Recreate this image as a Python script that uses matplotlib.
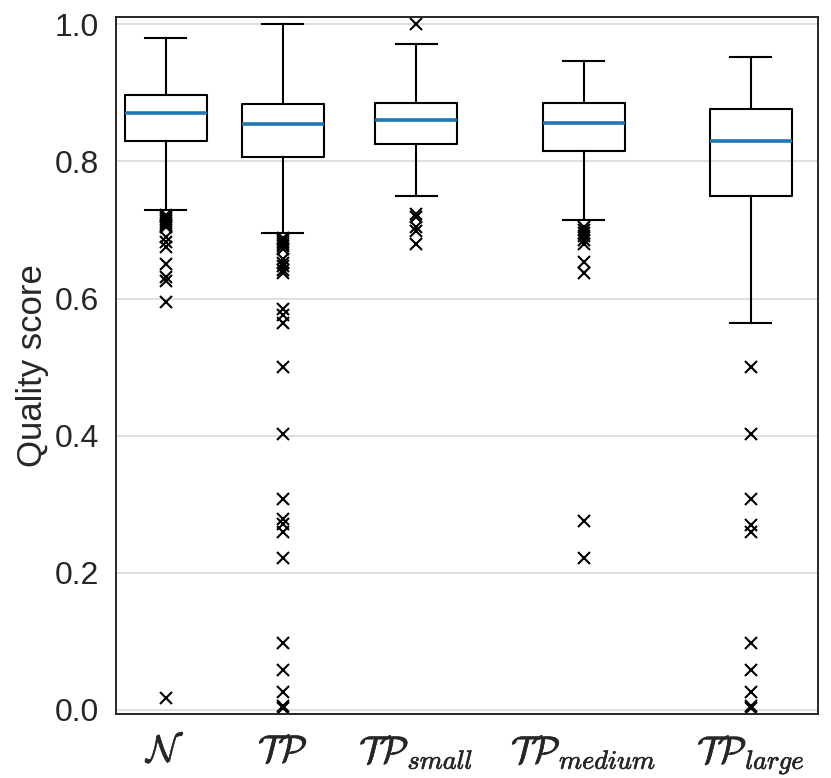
import matplotlib
matplotlib.use("Agg")
import matplotlib.pyplot as plt
import matplotlib.patheffects as pe

plt.rcParams['font.family'] = ['Liberation Sans', 'DejaVu Sans']
plt.rcParams['mathtext.fontset'] = 'cm'

# x labels and box positions
labels = [r'$\mathcal{N}$', r'$\mathcal{TP}$', r'$\mathcal{TP}_{small}$',
          r'$\mathcal{TP}_{medium}$', r'$\mathcal{TP}_{large}$']
positions = [1, 2, 3.14, 4.57, 6]

# box statistics
medians = [0.870, 0.854, 0.860, 0.856, 0.830]
q1 = [0.830, 0.806, 0.826, 0.815, 0.750]
q3 = [0.897, 0.884, 0.886, 0.886, 0.876]
whislo = [0.729, 0.695, 0.749, 0.714, 0.564]
whishi = [0.980, 1.000, 0.972, 0.946, 0.953]

# outliers
fliers_n = [0.722, 0.719, 0.716, 0.713, 0.710, 0.707, 0.704, 0.690, 0.682,
            0.675, 0.651, 0.631, 0.626, 0.595, 0.018]
fliers_tp = [0.689, 0.686, 0.683, 0.680, 0.676, 0.672, 0.657, 0.652, 0.647,
             0.641, 0.637, 0.585, 0.576, 0.564, 0.500, 0.403, 0.307, 0.278,
             0.271, 0.259, 0.221, 0.097, 0.058, 0.026, 0.006, 0.003]
fliers_small = [1.000, 0.723, 0.719, 0.704, 0.699, 0.680]
fliers_medium = [0.705, 0.700, 0.696, 0.691, 0.686, 0.680, 0.653, 0.637,
                 0.276, 0.222]
fliers_large = [0.500, 0.403, 0.307, 0.270, 0.259, 0.097, 0.058, 0.026,
                0.006, 0.003]
fliers = [fliers_n, fliers_tp, fliers_small, fliers_medium, fliers_large]

stats = []
for i in range(len(labels)):
    stats.append(dict(med=medians[i], q1=q1[i], q3=q3[i],
                      whislo=whislo[i], whishi=whishi[i],
                      fliers=fliers[i], label=labels[i]))

fig = plt.figure(figsize=(8.31, 7.78), dpi=100)
ax = fig.add_axes([0.1396, 0.0823, 0.845, 0.8958])

ax.yaxis.grid(True, color='#dcdcdc', linewidth=1.3, zorder=0)
ax.set_axisbelow(True)

ax.bxp(stats, positions=positions, widths=0.7,
       boxprops=dict(color='black', linewidth=1.5),
       whiskerprops=dict(color='black', linewidth=1.5),
       capprops=dict(color='black', linewidth=1.5),
       medianprops=dict(color='#1f77b4', linewidth=2.6),
       flierprops=dict(marker='x', markeredgecolor='black', markersize=8.5,
                       markeredgewidth=1.5, linestyle='none'))

ax.set_xlim(0.573, 6.575)
ax.set_ylim(-0.006, 1.0107)
ax.set_yticks([0.0, 0.2, 0.4, 0.6, 0.8, 1.0])
ax.set_yticklabels(['0.0', '0.2', '0.4', '0.6', '0.8', '1.0'])
ax.tick_params(axis='y', length=0, pad=12, labelsize=23, labelcolor='#262626')
ax.tick_params(axis='x', length=0, pad=14, labelsize=27, labelcolor='#262626')
ax.set_ylabel('Quality score', fontsize=25, color='#262626', labelpad=4)

# the reference labels are drawn with slightly heavier strokes
for t in ax.get_xticklabels():
    t.set_path_effects([pe.withStroke(linewidth=0.5, foreground='#262626')])

for s in ax.spines.values():
    s.set_color('#262626')
    s.set_linewidth(1.4)

fig.savefig('out.png', dpi=100)
